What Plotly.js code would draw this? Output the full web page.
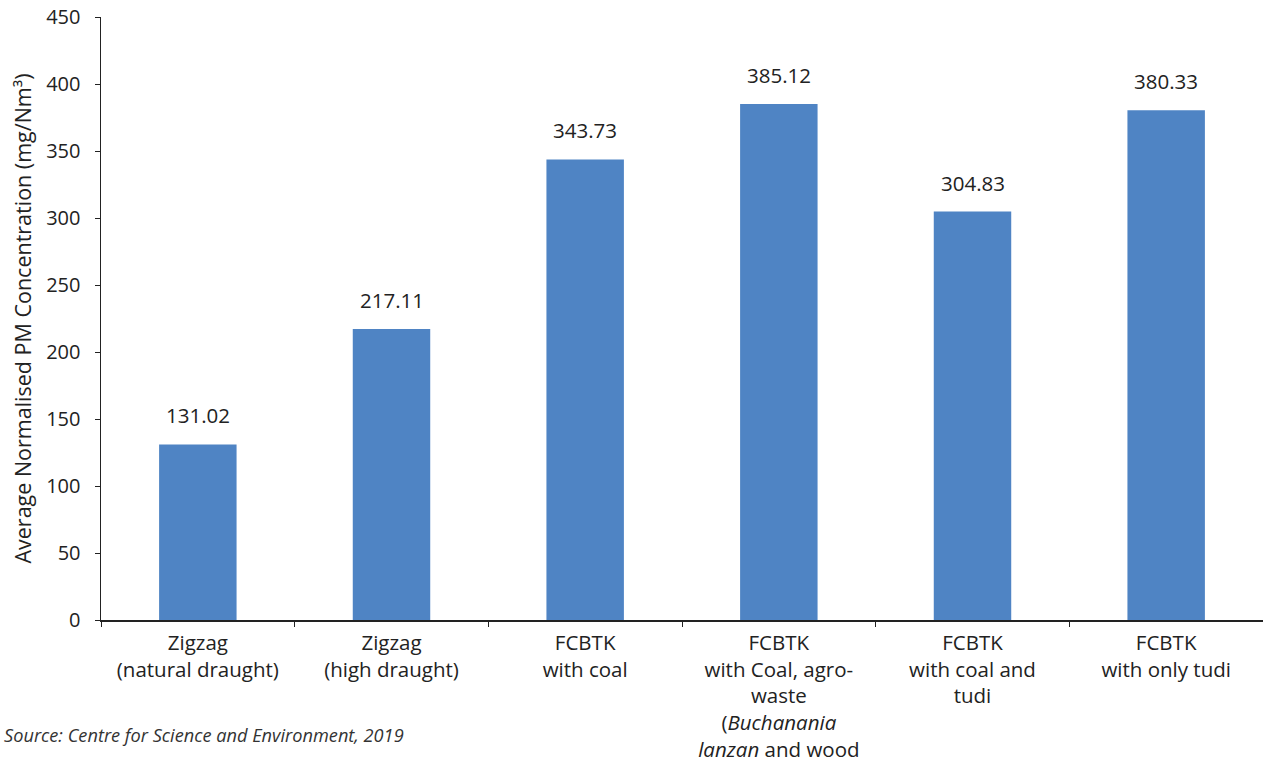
<!DOCTYPE html>
<html>
<head>
<meta charset="utf-8">
<script src="https://cdn.plot.ly/plotly-3.0.1.min.js"></script>
<style>html,body{margin:0;padding:0;background:#fff;}#chart{width:1263px;height:763px;}</style>
</head>
<body>
<div id="chart"></div>
<script>
const categories = [
  "Zigzag<br>(natural draught)",
  "Zigzag<br>(high draught)",
  "FCBTK<br>with coal",
  "FCBTK<br>with Coal, agro-<br>waste<br>(<i>Buchanania</i><br><i>lanzan</i> and wood",
  "FCBTK<br>with coal and<br>tudi",
  "FCBTK<br>with only tudi"
];
const values = [131.02, 217.11, 343.73, 385.12, 304.83, 380.33];
const valueLabels = ["131.02", "217.11", "343.73", "385.12", "304.83", "380.33"];
const yTicks = [0, 50, 100, 150, 200, 250, 300, 350, 400, 450];

const font = "'Open Sans', 'Noto Sans', sans-serif";

const trace = {
  type: "bar",
  x: categories,
  y: values,
  marker: {color: "#4F84C4"},
  hoverinfo: "skip"
};

const annotations = categories.map((c, i) => ({
  x: c, y: values[i], xref: "x", yref: "y",
  text: valueLabels[i], showarrow: false,
  yanchor: "bottom", yshift: 13,
  font: {family: font, size: 20.5, color: "#222"}
}));
annotations.push({
  xref: "paper", yref: "paper", x: -99/1162, y: -115/603,
  xanchor: "left", yanchor: "middle",
  text: "<i>Source: Centre for Science and Environment, 2019</i>",
  showarrow: false,
  font: {family: font, size: 18.2, color: "#333"}
});

const layout = {
  width: 1263, height: 763,
  margin: {l: 101, r: 0, t: 17, b: 143},
  paper_bgcolor: "#fff", plot_bgcolor: "#fff",
  showlegend: false,
  bargap: 0.6,
  font: {family: font, size: 20, color: "#222"},
  xaxis: {
    type: "category",
    showline: true, linecolor: "#222", linewidth: 1.5,
    ticks: "outside", tickson: "boundaries", ticklen: 5, tickcolor: "#222",
    ticklabelstandoff: 4,
    tickfont: {family: font, size: 20.5, color: "#222"},
    showgrid: false, zeroline: false
  },
  yaxis: {
    range: [0, 450],
    tickvals: yTicks,
    ticktext: yTicks.map(String),
    showline: true, linecolor: "#222", linewidth: 1.5,
    ticks: "outside", ticklen: 5, tickcolor: "#222",
    ticklabelstandoff: 10,
    tickfont: {family: font, size: 20, color: "#222"},
    showgrid: false, zeroline: false,
    title: {text: "Average Normalised PM Concentration (mg/Nm³)", standoff: 8,
            font: {family: font, size: 21.5, color: "#222"}}
  },
  annotations: annotations
};

Plotly.newPlot("chart", [trace], layout, {displayModeBar: false, staticPlot: true});
</script>
</body>
</html>
